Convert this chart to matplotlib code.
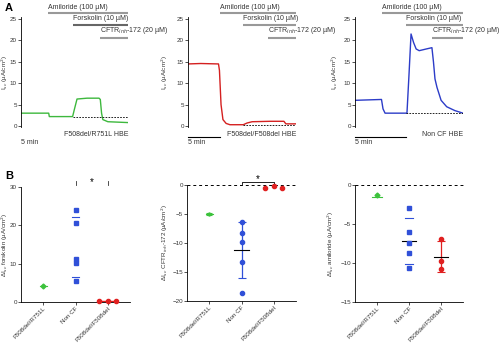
import numpy as np
import matplotlib.pyplot as plt
from matplotlib.transforms import blended_transform_factory

plt.rcParams['font.family'] = ['Liberation Sans', 'DejaVu Sans']
plt.rcParams['font.size'] = 5

# ---------- Panel A: Isc traces (time in min, current in uA/cm2) ----------
t_r751l = [0, 4.4, 4.5, 8.2, 8.5, 8.9, 10.5, 12.4, 12.6, 12.8, 13.0, 13.8, 17.0]
i_r751l = [3.0, 3.0, 2.2, 2.2, 4.0, 6.3, 6.5, 6.5, 6.2, 3.0, 1.5, 1.0, 0.8]

t_f508 = [0, 2.0, 4.8, 4.95, 5.2, 5.5, 6.0, 6.6, 8.7, 9.3, 10.1, 12.9, 15.1, 15.4, 17.0]
i_f508 = [14.5, 14.6, 14.5, 13.0, 5.0, 1.5, 0.6, 0.3, 0.3, 0.7, 1.0, 1.1, 1.1, 0.5, 0.5]

t_noncf = [0, 2.6, 2.75, 2.95, 5.1, 5.3, 5.5, 5.75, 6.0, 6.3, 7.0, 7.55, 7.7, 7.85,
           8.05, 8.45, 9.0, 9.8, 10.6]
i_noncf = [6.0, 6.2, 4.0, 3.0, 3.0, 12.0, 21.5, 19.5, 18.0, 17.6, 18.0, 18.3, 15.0,
           11.0, 9.0, 6.0, 4.5, 3.6, 3.0]

# baseline after CFTRinh-172 (dashed), drug additions (min)
baseline = [2.0, 0.3, 3.0]
amiloride_t = [4.3, 5.0, 2.65]
forskolin_t = [8.26, 8.66, 5.0]
inh_t = [12.55, 12.6, 7.55]
t_end = [17.0, 17.0, 10.6]
trace_names = ['F508del/R751L HBE', 'F508del/F508del HBE', 'Non CF HBE']
trace_colors = ['#3db83d', '#d42020', '#2c3cc8']

# ---------- Panel B: scatter summaries ----------
groups = ['F508del/R751L', 'Non CF', 'F508del/F508del']
fsk_r751l = [4.3]
fsk_noncf = [24.1, 20.6, 11.3, 10.2, 5.5]
fsk_f508 = [0.2, 0.3, 0.2]

inh_r751l = [-5.0]
inh_noncf = [-6.4, -8.3, -9.8, -13.2, -18.6]
inh_f508 = [-0.6, -0.2, -0.6]

ami_r751l = [-1.3]
ami_noncf = [-2.9, -6.0, -7.4, -8.7, -10.7]
ami_f508 = [-6.9, -9.8, -10.8]

fig = plt.figure(figsize=(5.0, 3.49), dpi=100)
W, H = 500, 349
TXT = '#333333'


def box(x0, x1, ytop, ybot):
    return [x0 / W, 1 - ybot / H, (x1 - x0) / W, (ybot - ytop) / H]


a_boxes = [box(21, 128, 19, 126), box(188, 296, 19, 126), box(355, 463, 19, 126)]
a_label_x = [-0.10, -0.167, -0.14]
traces = [(t_r751l, i_r751l), (t_f508, i_f508), (t_noncf, i_noncf)]
has_bar = [False, True, True]

for k, (t, y) in enumerate(traces):
    ax = fig.add_axes(a_boxes[k])
    ax.plot(t, y, color=trace_colors[k], lw=1.0)
    ax.plot([forskolin_t[k], t_end[k]], [baseline[k], baseline[k]], 'k--', lw=0.6,
            dashes=(2, 1.5))
    ax.set_xlim(0, t_end[k])
    ax.set_ylim(0, 25)
    ax.set_yticks([0, 5, 10, 15, 20, 25])
    for s in ['top', 'right', 'bottom']:
        ax.spines[s].set_visible(False)
    ax.spines['left'].set_linewidth(0.6)
    ax.spines['left'].set_bounds(-0.3, 25.5)
    ax.set_xticks([])
    ax.tick_params(axis='y', length=2, width=0.6, pad=1, labelsize=4.5, colors=TXT)
    ax.set_ylabel('I$_{sc}$ (µA/cm$^2$)', fontsize=4.5, color=TXT)
    ax.yaxis.set_label_coords(a_label_x[k], 0.5)

    # drug bars above the trace
    bars = [(amiloride_t[k], 26.4, 'Amiloride (100 µM)', '#999999'),
            (forskolin_t[k], 23.7, 'Forskolin (10 µM)', '#666666' if k == 0 else '#999999'),
            (inh_t[k], 20.6, 'CFTR$_{inh}$-172 (20 µM)', '#999999')]
    for x0, yb, lab, c in bars:
        ax.plot([x0, t_end[k]], [yb, yb], color=c, lw=1.5, clip_on=False,
                solid_capstyle='butt')
        ax.text(x0, yb + 0.5, lab, fontsize=5, ha='left', va='bottom', color=TXT,
                clip_on=False)

    ax.text(t_end[k], -2.0, trace_names[k], fontsize=5, ha='right', va='center',
            color=TXT)
    tr = blended_transform_factory(ax.transData, ax.transAxes)
    if has_bar[k]:
        ax.plot([0, 5.0], [-0.10, -0.10], color='k', lw=0.8, transform=tr, clip_on=False)
    ax.text(0, -0.155, '5 min', fontsize=5, ha='left', va='center', transform=tr,
            color=TXT)

fig.text(5 / W, 1 - 8 / H, 'A', fontsize=8, fontweight='bold', va='center')
fig.text(5 / W, 1 - 176 / H, 'B', fontsize=8, fontweight='bold', va='center')

b_boxes = [box(21, 130, 187, 302), box(187, 296, 185, 301), box(355, 463, 185, 302)]
b_label_x = [-0.10, -0.156, -0.176]
green, blue, red = '#3cc23c', '#3050d8', '#e02020'


def style_b(ax, ylim, ticks, ylabel, lx):
    ax.set_xlim(-0.7, 2.7)
    ax.set_ylim(*ylim)
    ax.set_yticks(ticks)
    ax.set_xticks([0, 1, 2])
    ax.set_xticklabels(groups, rotation=45, ha='right', rotation_mode='anchor',
                       fontsize=5, color=TXT)
    for s in ['top', 'right']:
        ax.spines[s].set_visible(False)
    for s in ['left', 'bottom']:
        ax.spines[s].set_linewidth(0.6)
    ax.tick_params(length=2, width=0.6, pad=1, labelsize=4.5, colors=TXT)
    ax.set_ylabel(ylabel, fontsize=4.5, color=TXT)
    ax.yaxis.set_label_coords(lx, 0.5)


def hline(ax, x, y, half, color, lw=0.8):
    ax.plot([x - half, x + half], [y, y], color=color, lw=lw, clip_on=False)


# B1: forskolin response
ax = fig.add_axes(b_boxes[0])
style_b(ax, (0, 30), [0, 10, 20, 30], 'ΔI$_{sc}$ forskolin (µA/cm$^2$)', b_label_x[0])
hline(ax, 0, np.mean(fsk_r751l), 0.12, green)
ax.plot([0], fsk_r751l, 'D', color=green, ms=2.5, clip_on=False)
m, sd = np.mean(fsk_noncf), np.std(fsk_noncf, ddof=1)
hline(ax, 1, m + sd, 0.12, blue)
hline(ax, 1, m - sd, 0.12, blue)
ax.plot([1] * len(fsk_noncf), fsk_noncf, 's', color=blue, ms=3, clip_on=False)
hline(ax, 2, np.mean(fsk_f508), 0.3, red, lw=1.0)
ax.plot([1.73, 2.0, 2.27], fsk_f508, 'o', color=red, ms=3, clip_on=False, zorder=4)
for xs in [1, 2]:
    ax.plot([xs, xs], [30.4, 31.6], color=TXT, lw=0.6, clip_on=False)
ax.text(1.5, 31.3, '*', fontsize=7, ha='center', va='center')

# B2: CFTRinh-172 response
ax = fig.add_axes(b_boxes[1])
style_b(ax, (-20, 0), [-20, -15, -10, -5, 0], 'ΔI$_{sc}$ CFTR$_{inh}$-172 (µA/cm$^2$)',
        b_label_x[1])
ax.axhline(0, color='k', lw=0.7, ls='--', dashes=(3, 3), clip_on=False)
ax.errorbar([0], inh_r751l, yerr=0.2, color=green, capsize=2.5, capthick=0.8, lw=0.8)
hline(ax, 0, np.mean(inh_r751l), 0.12, green)
ax.plot([0], inh_r751l, 'D', color=green, ms=2, alpha=0.6)
m, sd = np.mean(inh_noncf), np.std(inh_noncf, ddof=1)
ax.errorbar([1], [m], yerr=sd, color=blue, capsize=3, capthick=0.8, lw=0.9)
ax.plot([1] * len(inh_noncf), inh_noncf, 'o', color=blue, ms=3)
hline(ax, 1, m, 0.22, 'k', lw=0.8)
ax.plot([1.73, 2.0, 2.27], inh_f508, 'o', color=red, ms=3, clip_on=False, zorder=4)
ax.plot([1, 1, 2, 2], [0.1, 0.5, 0.5, 0.1], color='k', lw=0.6, clip_on=False)
ax.text(1.5, 1.1, '*', fontsize=7, ha='center', va='center')

# B3: amiloride response
ax = fig.add_axes(b_boxes[2])
style_b(ax, (-15, 0), [-15, -10, -5, 0], 'ΔI$_{sc}$ amiloride (µA/cm$^2$)', b_label_x[2])
ax.axhline(0, color='k', lw=0.7, ls='--', dashes=(3, 3), clip_on=False)
hline(ax, 0, -1.5, 0.15, green)
ax.plot([0], ami_r751l, 'D', color=green, ms=2.5)
m, sd = np.mean(ami_noncf), np.std(ami_noncf, ddof=1)
hline(ax, 1, m + sd, 0.12, blue)
hline(ax, 1, m - sd, 0.12, blue)
hline(ax, 1, m, 0.22, 'k')
ax.plot([1] * len(ami_noncf), ami_noncf, 's', color=blue, ms=3)
m, sd = np.mean(ami_f508), np.std(ami_f508, ddof=1)
ax.errorbar([2], [m], yerr=sd, color=red, capsize=3, capthick=0.8, lw=0.9)
ax.plot([2] * len(ami_f508), ami_f508, 'o', color=red, ms=3)
hline(ax, 2, m, 0.22, 'k')

fig.savefig('out.png', dpi=100)
